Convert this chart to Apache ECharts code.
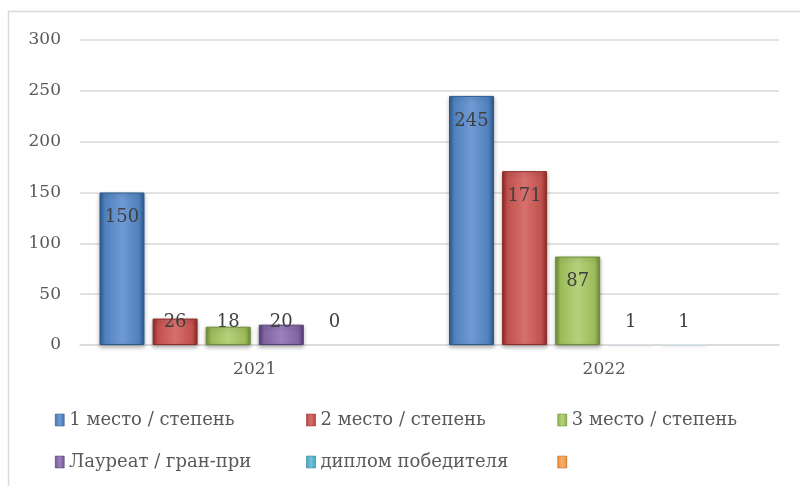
<!DOCTYPE html>
<html>
<head>
<meta charset="utf-8">
<script src="https://cdn.jsdelivr.net/npm/echarts@6/dist/echarts.min.js"></script>
<style>
  html, body { margin: 0; padding: 0; background: #fff; }
  #chart { width: 800px; height: 486px; }
</style>
</head>
<body>
<div id="chart"></div>
<script>
// данные диаграммы
const years = ['2021', '2022'];
const seriesNames = ['1 место / степень', '2 место / степень', '3 место / степень', 'Лауреат / гран-при', 'диплом победителя', ' '];
const place1 = [150, 245];
const place2 = [26, 171];
const place3 = [18, 87];
const laureate = [20, 1];
const diploma = [0, 1];
const other = [null, null];
const yTicks = { min: 0, max: 300, interval: 50 };

const seriesValues = [place1, place2, place3, laureate, diploma, other];
const baseColors = ['#4F81BD', '#C0504D', '#9BBB59', '#8064A2', '#4BACC6', '#F79646'];
const darkColors = ['#2C5A8F', '#8C2B28', '#6E8B35', '#553F77', '#2B7F96', '#B8651F'];
const lightColors = ['#6F9AD3', '#D7706D', '#B5D17A', '#9A80BC', '#74C3D8', '#F9AE6B'];
const paleColors = ['#d6dfeb', '#ebd6d6', '#e3ebd6', '#e2dcea', '#d3e8ee', '#f6e3d3'];

const FONT = 'DejaVu Serif';

function barColor(i) {
    return new echarts.graphic.LinearGradient(0, 0, 1, 0, [
        { offset: 0, color: darkColors[i] },
        { offset: 0.12, color: baseColors[i] },
        { offset: 0.5, color: lightColors[i] },
        { offset: 0.88, color: baseColors[i] },
        { offset: 1, color: darkColors[i] }
    ]);
}

// подпись внутри у вершины, для коротких столбцов — у основания
function makeData(values, i) {
    return values.map(function (v) {
        if (v == null) return { value: null, label: { show: false } };
        if (v >= 40) {
            return { value: v, label: { position: 'insideTop', distance: 16 } };
        }
        const item = { value: v, label: { position: 'insideBottom', distance: 14 } };
        if (v === 0) item.itemStyle = { borderWidth: 0, shadowBlur: 0 };
        else if (v < 5) item.itemStyle = { color: paleColors[i], borderColor: paleColors[i], shadowBlur: 2, shadowColor: 'rgba(0,0,0,0.1)' };
        return item;
    });
}

const chart = echarts.init(document.getElementById('chart'));

const series = seriesValues.map(function (vals, i) {
    return {
        name: seriesNames[i],
        type: 'bar',
        data: makeData(vals, i),
        barWidth: 45,
        barGap: '18%',
        itemStyle: {
            color: barColor(i),
            borderColor: darkColors[i],
            borderWidth: 1,
            shadowBlur: 4,
            shadowOffsetY: 2,
            shadowColor: 'rgba(0,0,0,0.3)'
        },
        label: {
            show: true,
            color: '#404040',
            fontFamily: FONT,
            fontSize: 18
        }
    };
});

const option = {
    backgroundColor: '#fff',
    animation: false,
    color: baseColors,
    graphic: [{
        type: 'rect',
        shape: { x: 8.5, y: 11.5, width: 820, height: 520 },
        style: { fill: 'none', stroke: '#d9d9d9', lineWidth: 1.5 },
        silent: true
    }],
    grid: { left: 80, right: 21, top: 40, bottom: 141 },
    legend: {
        left: 50,
        top: 404,
        width: 740,
        itemWidth: 9,
        itemHeight: 12,
        itemGap: 20,
        icon: 'rect',
        textStyle: {
            fontFamily: FONT,
            fontSize: 18,
            color: '#595959',
            width: 217,
            lineHeight: 22,
            overflow: 'none'
        },
        data: seriesNames.map(function (n, i) {
            return { name: n, itemStyle: { color: barColor(i), borderColor: darkColors[i], borderWidth: 0.5 } };
        })
    },
    xAxis: {
        type: 'category',
        data: years,
        axisLine: { lineStyle: { color: '#d9d9d9', width: 1.5 } },
        axisTick: { show: false },
        axisLabel: { color: '#595959', fontFamily: FONT, fontSize: 17, margin: 16 }
    },
    yAxis: {
        type: 'value',
        min: yTicks.min,
        max: yTicks.max,
        interval: yTicks.interval,
        axisLine: { show: false },
        axisTick: { show: false },
        splitLine: { lineStyle: { color: '#d9d9d9', width: 1.5 } },
        axisLabel: { color: '#595959', fontFamily: FONT, fontSize: 17, margin: 19 }
    },
    series: series
};

chart.setOption(option);
</script>
</body>
</html>
